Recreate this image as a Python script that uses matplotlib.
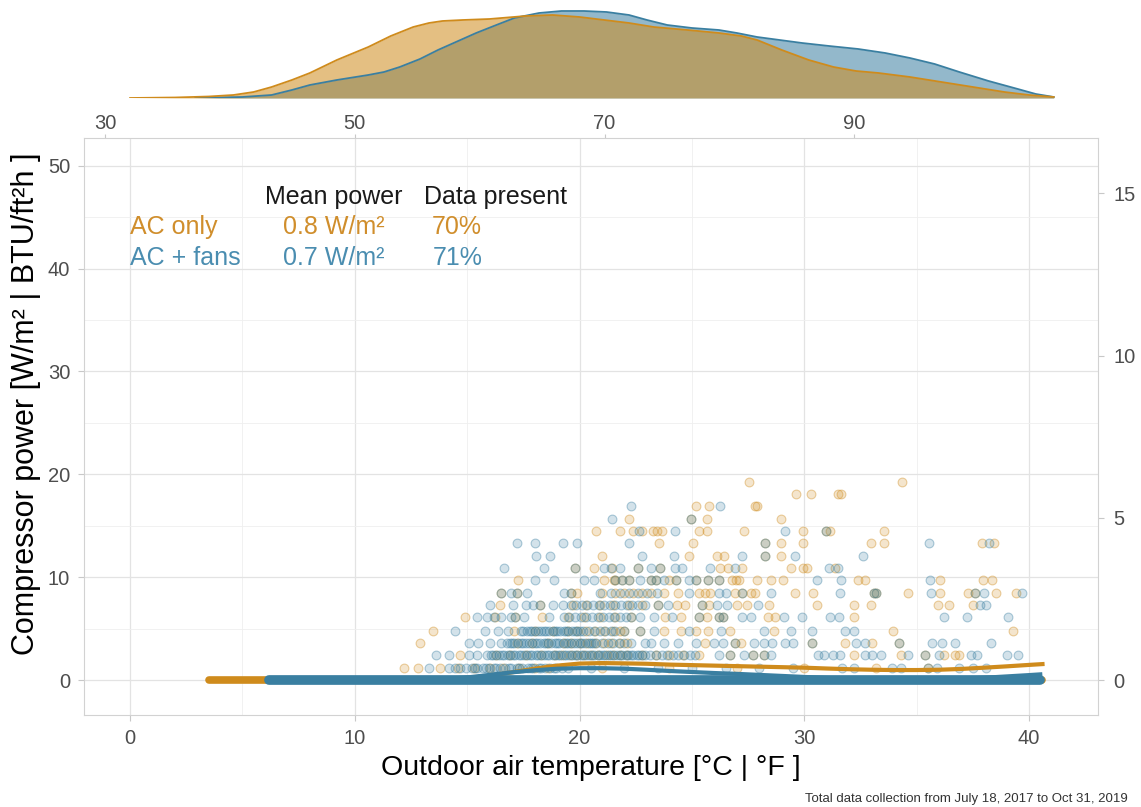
"""
Compressor power vs outdoor air temperature, AC only vs AC + fans
"""
import numpy as np
import matplotlib.pyplot as plt
from matplotlib.ticker import MultipleLocator
from matplotlib.colors import to_rgba

plt.rcParams['font.family'] = ['Liberation Sans', 'DejaVu Sans']

ORANGE = '#CF8B1C'
BLUE = '#3A7FA1'
ORANGE_TXT = '#D08E2C'
BLUE_TXT = '#4A8DB0'
TICK_TXT = '#4D4D4D'

# ---- data -------------------------------------------------------------
# compressor power comes in discrete steps [W/m2]
power_levels = [1.2, 2.4, 3.6, 4.8, 6.1, 7.3, 8.5, 9.7, 10.9, 12.1, 13.3,
                14.5, 15.7, 16.9, 18.1, 19.3]

# outdoor temperature [degC] of each non-zero reading, one list per step
ac_only_rows = [
    [12.2, 12.8, 13.8, 14.6, 15.3, 16.0, 16.6, 17.3, 18.0, 18.6, 21.0, 24.0, 27.0, 30.0, 33.2, 35.5],
    [14.7, 16.3, 16.9, 17.6, 18.3, 18.9, 19.6, 20.2, 20.8, 21.5, 22.1, 22.8, 23.4, 24.0, 24.6, 25.3,
     26.7, 27.7, 28.2, 32.2, 34.3, 35.35, 36.2, 36.7, 36.9, 19.2, 19.9, 20.5, 21.2, 21.8],
    [12.9, 17.2, 17.9, 18.6, 19.3, 20.0, 20.7, 21.4, 22.1, 25.6, 26.9, 27.2, 30.35, 31.8, 33.0, 34.2,
     19.6, 20.35, 21.1, 21.8],
    [13.5, 17.1, 18.0, 18.8, 19.5, 20.3, 21.1, 21.8, 22.0, 22.7, 23.75, 24.5, 25.2, 25.7, 26.7, 28.65,
     33.95, 39.3, 19.9, 20.7, 21.5],
    [14.9, 16.25, 17.15, 18.35, 19.5, 20.2, 20.9, 21.6, 22.3, 23.8, 24.5, 25.3, 25.65, 26.2, 26.4,
     28.4, 28.7, 32.2],
    [16.45, 18.25, 19.7, 20.3, 20.9, 21.5, 22.2, 22.8, 23.5, 24.35, 24.7, 25.45, 25.75, 27.0, 27.45,
     28.45, 30.55, 32.2, 32.95, 35.95, 36.45, 37.5],
    [16.5, 17.2, 19.6, 19.9, 21.0, 21.6, 22.0, 22.4, 22.8, 23.2, 23.75, 24.4, 25.3, 25.6, 25.8, 26.9,
     27.25, 27.65, 27.8, 29.6, 30.4, 33.1, 33.2, 34.6, 36.05, 37.3, 37.6, 38.55, 39.4],
    [17.25, 21.1, 21.55, 21.6, 21.9, 22.2, 23.2, 23.4, 24.0, 24.3, 25.2, 25.7, 26.2, 26.8, 26.95,
     27.1, 27.9, 28.5, 29.05, 32.4, 32.7, 36.05, 37.95, 38.35],
    [19.8, 20.65, 21.45, 22.6, 23.6, 26.25, 26.6, 27.25, 29.4, 29.95, 30.1, 31.35],
    [21.0, 24.85, 26.1, 26.45, 28.25, 28.95],
    [23.55, 25.05, 28.25, 28.95, 29.95, 32.95, 33.55, 37.9, 38.45],
    [20.75, 21.8, 22.4, 22.8, 23.25, 23.45, 23.65, 25.3, 25.65, 27.3, 29.95, 30.95, 31.15, 33.55],
    [22.2, 24.95, 25.65, 28.95],
    [25.2, 25.75, 27.8, 27.9],
    [29.65, 30.3, 31.5, 31.65],
    [27.55, 34.35],
]

ac_fans_rows = [
    [13.3, 14.2, 14.45, 14.7, 14.95, 15.2, 15.45, 15.7, 15.95, 16.2, 16.45, 16.7, 16.95, 17.2, 17.45,
     17.7, 17.95, 18.2, 18.45, 18.7, 18.95, 19.2, 19.5, 20.5, 22.0, 23.5, 25.0, 26.5, 28.0, 29.5,
     31.7, 32.2, 33.9, 34.3, 35.5, 35.9, 36.9, 37.5, 38.1,
     15.35, 15.85, 16.3, 16.85, 17.3, 17.85, 18.3, 18.85],
    [13.6, 14.2, 15.1, 15.45, 15.9, 16.15, 16.4, 16.65, 16.9, 17.15, 17.4, 17.65, 17.9, 18.15, 18.4,
     18.65, 18.9, 19.15, 19.4, 19.65, 19.9, 20.15, 20.4, 20.65, 20.9, 21.15, 21.4, 21.65, 21.9, 22.15,
     22.4, 22.65, 22.9, 23.15, 23.4, 23.65, 23.9, 24.15, 24.4, 24.65, 24.9, 25.15, 26.2, 26.7, 27.3,
     27.7, 28.2, 28.5, 30.6, 30.9, 31.3, 31.6, 32.7, 33.0, 33.4, 34.6, 35.35, 36.0, 37.4, 37.7, 39.0,
     39.5,
     16.05, 16.3, 16.55, 16.8, 17.05, 17.3, 17.55, 17.8, 18.05, 18.3, 18.55, 18.8, 19.05, 19.3, 19.55,
     19.8, 20.05, 20.3, 20.55, 20.8, 21.05, 21.3, 21.55, 21.8, 22.05, 22.3, 22.55, 22.8],
    [15.1, 15.5, 16.0, 16.5, 16.75, 17.0, 17.25, 17.5, 17.75, 18.0, 18.25, 18.5, 18.75, 19.0, 19.25,
     19.5, 19.75, 20.0, 20.25, 20.5, 20.75, 21.0, 21.25, 21.5, 21.75, 22.0, 22.3, 22.9, 23.2, 23.75,
     24.4, 25.2, 26.0, 26.4, 26.9, 27.75, 28.2, 28.55, 29.15, 29.5, 30.35, 32.3, 32.7, 34.2, 35.7,
     36.15, 36.7, 38.3,
     16.9, 17.1, 17.4, 17.6, 17.9, 18.1, 18.4, 18.6, 18.9, 19.1, 19.4, 19.6, 19.9, 20.1, 20.4, 20.6],
    [14.45, 15.8, 16.35, 16.8, 17.4, 17.65, 17.9, 18.15, 18.4, 18.65, 18.9, 19.15, 19.4, 19.65, 19.9,
     20.15, 20.4, 20.65, 20.9, 21.15, 21.4, 21.6, 22.0, 22.7, 23.3, 24.85, 26.3, 28.2, 29.4, 30.35,
     31.8, 32.2,
     17.5, 17.8, 18.0, 18.3, 18.5, 18.8, 19.0, 19.3, 19.5, 19.8, 20.0],
    [15.45, 15.9, 16.2, 16.5, 16.95, 17.15, 17.55, 18.65, 19.3, 19.55, 19.8, 20.05, 20.3, 20.55, 20.8,
     21.05, 21.3, 21.55, 21.8, 22.05, 22.3, 22.7, 23.3, 24.1, 25.3, 26.2, 26.4, 27.25, 27.65, 29.1,
     29.9, 31.15, 31.55, 36.2, 37.25, 39.05],
    [16.0, 17.05, 17.6, 17.95, 18.25, 18.8, 19.25, 19.6, 19.85, 20.1, 20.35, 20.6, 20.85, 21.1, 21.35,
     21.6, 21.85, 22.1, 22.35, 22.6, 22.9, 23.5, 23.95, 25.45, 26.1, 26.55, 27.95, 37.8, 38.1],
    [16.5, 16.95, 17.2, 17.65, 19.3, 19.6, 20.9, 21.4, 21.8, 22.2, 22.6, 23.0, 23.45, 24.85, 26.2,
     26.5, 27.25, 28.5, 31.6, 33.1, 33.2, 35.65, 37.6, 38.0, 39.7],
    [18.0, 18.85, 20.2, 20.65, 21.6, 21.9, 22.2, 22.7, 23.2, 23.4, 23.75, 24.3, 24.85, 25.2, 25.7,
     26.2, 30.55, 31.65, 35.6],
    [16.65, 18.4, 19.8, 21.1, 21.4, 21.8, 22.6, 23.2, 23.6, 24.25, 24.55, 25.8, 26.9, 31.1, 31.5],
    [18.05, 18.7, 22.8, 24.2, 27.25, 28.25, 29.6, 32.6],
    [17.2, 18.0, 19.25, 19.9, 22.2, 28.25, 35.55, 38.2],
    [22.65, 24.25, 29.15, 30.95],
    [21.45, 24.95],
    [22.3, 26.25],
    [],
    [],
]

# temperature span of the (many) zero-power readings
ac_only_zero_span = [3.5, 40.6]
ac_fans_zero_span = [6.2, 40.5]

# smoothed trend of compressor power
ac_only_smooth_t = [3.5, 6, 8, 10, 12, 13, 14, 15, 16, 17, 18, 19, 20, 21, 22, 23, 24, 25, 26, 27,
                    28, 29, 30, 31, 32, 33, 34, 35, 36, 37, 38, 39, 40, 40.6]
ac_only_smooth = [0, 0, 0, 0, 0.02, 0.05, 0.1, 0.2, 0.4, 0.75, 1.1, 1.4, 1.6, 1.65, 1.62, 1.58,
                  1.5, 1.45, 1.4, 1.35, 1.3, 1.25, 1.2, 1.12, 1.05, 1.0, 0.97, 0.97, 1.0, 1.08,
                  1.2, 1.33, 1.47, 1.55]
ac_fans_smooth_t = [6.2, 8, 10, 12, 13, 14, 15, 16, 17, 18, 19, 20, 21, 22, 23, 24, 25, 26, 27, 28,
                    29, 30, 31, 32, 33, 34, 35, 36, 37, 38, 39, 40, 40.5]
ac_fans_smooth = [0, 0, 0, 0.02, 0.05, 0.12, 0.25, 0.5, 0.75, 0.95, 1.1, 1.15, 1.15, 1.1, 1.0,
                  0.88, 0.78, 0.68, 0.6, 0.5, 0.4, 0.3, 0.2, 0.12, 0.08, 0.06, 0.06, 0.08, 0.13,
                  0.22, 0.35, 0.48, 0.55]

# distribution of outdoor temperature (relative density)
ac_only_dens_t = [0.0, 2.0, 3.5, 4.6, 5.5, 6.3, 7.2, 8.0, 9.2, 10.6, 11.6, 12.6, 13.3, 13.9, 14.8,
                  16.0, 17.6, 18.8, 20.0, 21.1, 22.2, 23.3, 24.8, 26.2, 27.2, 27.9, 29.0, 30.2,
                  31.3, 32.3, 33.3, 34.7, 36.1, 37.5, 38.9, 40.0, 41.1]
ac_only_dens = [0, 0.5, 1.5, 3, 6, 11, 18, 25, 38, 51, 62, 71, 75, 77, 78, 79, 82, 83, 81, 78, 75,
                71, 68, 65, 62, 58, 48, 38, 31, 27, 25, 21, 16, 11, 6, 3, 1]
ac_fans_dens_t = [2.9, 5.0, 6.3, 7.2, 8.0, 9.2, 10.6, 11.3, 12.0, 12.9, 13.7, 14.5, 15.4, 16.3, 17.1,
                  18.2, 19.2, 20.2, 21.2, 22.2, 23.0, 23.9, 25.0, 26.2, 27.0, 27.9, 28.9, 29.9,
                  31.1, 32.4, 33.6, 34.7, 35.8, 36.9, 38.2, 39.5, 40.3, 41.1]
ac_fans_dens = [0, 1, 3, 8, 13, 18, 23, 26, 31, 39, 48, 56, 65, 73, 80, 85, 87, 87, 86, 83, 78, 73,
                70, 68, 65, 61, 58, 55, 52, 49, 45, 40, 34, 26, 17, 9, 4, 1]

# ---- figure -----------------------------------------------------------
W2BTU = 0.317
XLIM = (-2.05, 43.07)
FS_TXT = 18

fig = plt.figure(figsize=(11.41, 8.07), dpi=100)
ax = fig.add_axes([84 / 1141, 92 / 807, 1014 / 1141, 577 / 807])
ax_top = fig.add_axes([84 / 1141, 709 / 807, 1014 / 1141, 93 / 807])

# density panel
ax_top.fill_between(ac_fans_dens_t, ac_fans_dens, color=BLUE, alpha=0.55, lw=0)
ax_top.plot(ac_fans_dens_t, ac_fans_dens, color=BLUE, lw=1.3)
ax_top.fill_between(ac_only_dens_t, ac_only_dens, color=ORANGE, alpha=0.55, lw=0)
ax_top.plot(ac_only_dens_t, ac_only_dens, color=ORANGE, lw=1.3)
ax_top.set_xlim(*XLIM)
ax_top.set_ylim(0, 93)
ax_top.axis('off')


def scatter_rows(rows, color):
    xs, ys = [], []
    for level, temps in zip(power_levels, rows):
        xs += temps
        ys += [level] * len(temps)
    ax.scatter(xs, ys, s=40, facecolor=to_rgba(color, 0.22),
               edgecolor=to_rgba(color, 0.4), linewidth=0.8, zorder=2)


scatter_rows(ac_only_rows, ORANGE)
scatter_rows(ac_fans_rows, BLUE)

ax.plot(ac_only_zero_span, [0, 0], color=ORANGE, lw=5.5, solid_capstyle='round', zorder=3)
ax.plot(ac_only_smooth_t, ac_only_smooth, color=ORANGE, lw=3, zorder=3)
ax.plot(ac_fans_zero_span, [0, 0], color=BLUE, lw=7, solid_capstyle='round', zorder=4)
ax.plot(ac_fans_smooth_t, ac_fans_smooth, color=BLUE, lw=3, zorder=4)

ax.set_xlim(*XLIM)
ax.set_ylim(-3.4, 52.7)
ax.xaxis.set_major_locator(MultipleLocator(10))
ax.xaxis.set_minor_locator(MultipleLocator(5))
ax.yaxis.set_major_locator(MultipleLocator(10))
ax.yaxis.set_minor_locator(MultipleLocator(5))
ax.grid(which='major', color='#E3E3E3', lw=0.9)
ax.grid(which='minor', color='#EFEFEF', lw=0.6)
ax.set_axisbelow(True)
for s in ax.spines.values():
    s.set_color('#D2D2D2')
ax.tick_params(which='major', length=4, color='#C8C8C8', labelsize=14.5, labelcolor=TICK_TXT, pad=6)
ax.tick_params(which='minor', length=0)

ax.set_xlabel('Outdoor air temperature [°C | °F ]', fontsize=20.5, labelpad=5)
ax.set_ylabel('Compressor power [W/m² | BTU/ft²h ]', fontsize=22)
ax.yaxis.set_label_coords(-0.0424, 0.539)

# secondary axes in imperial units
sec_x = ax.secondary_xaxis('top', functions=(lambda c: c * 9 / 5 + 32, lambda f: (f - 32) * 5 / 9))
sec_x.set_xticks([30, 50, 70, 90])
sec_x.tick_params(length=3, color='#C8C8C8', labelsize=14.5, labelcolor=TICK_TXT, pad=0.5)
sec_x.spines['top'].set_visible(False)

sec_y = ax.secondary_yaxis('right', functions=(lambda w: w * W2BTU, lambda b: b / W2BTU))
sec_y.set_yticks([0, 5, 10, 15])
sec_y.tick_params(length=4, color='#C8C8C8', labelsize=14.5, labelcolor=TICK_TXT, pad=7)
sec_y.spines['right'].set_visible(False)

# summary table
ax.text(6.0, 47.0, 'Mean power', fontsize=FS_TXT, color='#1A1A1A', va='center')
ax.text(13.07, 47.0, 'Data present', fontsize=FS_TXT, color='#1A1A1A', va='center')
ax.text(0, 44.0, 'AC only', fontsize=FS_TXT, color=ORANGE_TXT, va='center')
ax.text(11.33, 44.0, '0.8 W/m²', fontsize=FS_TXT, color=ORANGE_TXT, va='center', ha='right')
ax.text(15.67, 44.0, '70%', fontsize=FS_TXT, color=ORANGE_TXT, va='center', ha='right')
ax.text(0, 41.07, 'AC + fans', fontsize=FS_TXT, color=BLUE_TXT, va='center')
ax.text(11.33, 41.07, '0.7 W/m²', fontsize=FS_TXT, color=BLUE_TXT, va='center', ha='right')
ax.text(15.7, 41.07, '71%', fontsize=FS_TXT, color=BLUE_TXT, va='center', ha='right')

fig.text(1128 / 1141, 1 - 799 / 807, 'Total data collection from July 18, 2017 to Oct 31, 2019',
         ha='right', va='center', fontsize=9.5, color='#333333')

fig.savefig('out.png', dpi=100)
